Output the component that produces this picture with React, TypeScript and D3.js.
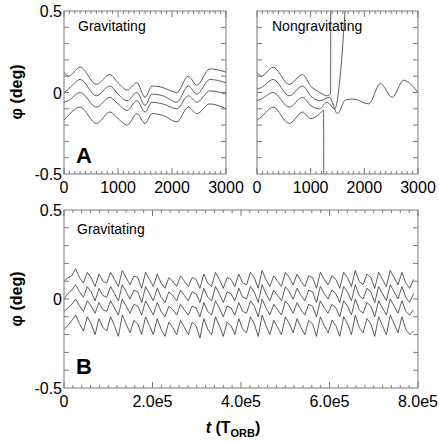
import React from "react";
import * as d3 from "d3";

// panel A: time (T_orb) and phase (deg)
const tA = [0, 80, 300, 600, 850, 1000, 1170, 1350, 1500, 1630, 1830, 2090, 2300, 2460, 2700, 3000];
const gravA1 = [0.125, 0.1, 0.155, 0.05, 0.11, 0.06, 0.015, 0.06, -0.03, 0.04, 0.03, 0.0, 0.1, 0.045, 0.145, 0.125];
const gravA2 = [0.0, 0.02, 0.08, -0.02, 0.04, -0.01, -0.05, 0.0, -0.08, -0.01, -0.02, -0.06, 0.04, -0.01, 0.08, 0.06];
const gravA3 = [-0.06, -0.05, 0.0, -0.09, -0.03, -0.07, -0.11, -0.05, -0.12, -0.06, -0.07, -0.1, -0.02, -0.06, 0.01, -0.01];
const gravA4 = [-0.17, -0.14, -0.09, -0.19, -0.12, -0.16, -0.2, -0.13, -0.19, -0.13, -0.14, -0.18, -0.09, -0.13, -0.07, -0.1];

const nonT1 = [0, 80, 300, 600, 850, 1000, 1170, 1300, 1370, 1375];
const nonV1 = [0.125, 0.1, 0.155, 0.05, 0.11, 0.04, 0.0, -0.02, -0.01, 0.6];
const nonT2 = [0, 80, 300, 600, 850, 1000, 1170, 1350, 1500, 1650, 1800, 2080, 2300, 2520, 2730, 3000];
const nonV2 = [0.02, 0.03, 0.08, -0.02, 0.04, -0.02, -0.05, -0.03, -0.13, -0.045, -0.04, -0.07, 0.055, -0.03, 0.075, 0.0];
const nonT3 = [0, 80, 300, 600, 850, 1000, 1170, 1300, 1450, 1550, 1650];
const nonV3 = [-0.05, -0.04, 0.0, -0.09, -0.03, -0.08, -0.1, -0.06, -0.1, 0.1, 0.55];
const nonT4 = [0, 80, 300, 600, 850, 1000, 1170, 1240, 1245];
const nonV4 = [-0.17, -0.15, -0.09, -0.19, -0.12, -0.16, -0.13, -0.11, -0.6];

// panel B: long run, sampled every ~8800 T_orb
const gravB1 = [0.10, 0.12, 0.13, 0.17, 0.12, 0.09, 0.15, 0.12, 0.07, 0.14, 0.10, 0.09, 0.15, 0.11, 0.07, 0.16, 0.12, 0.08, 0.13, 0.12, 0.06, 0.15, 0.11, 0.07, 0.14, 0.09, 0.06, 0.12, 0.10, 0.07, 0.13, 0.10, 0.07, 0.12, 0.11, 0.06, 0.14, 0.09, 0.07, 0.15, 0.11, 0.06, 0.12, 0.11, 0.07, 0.14, 0.09, 0.08, 0.15, 0.12, 0.06, 0.16, 0.11, 0.07, 0.13, 0.10, 0.07, 0.15, 0.12, 0.08, 0.14, 0.10, 0.07, 0.13, 0.12, 0.06, 0.15, 0.11, 0.08, 0.13, 0.11, 0.06, 0.15, 0.12, 0.07, 0.16, 0.10, 0.08, 0.14, 0.12, 0.06, 0.15, 0.11, 0.07, 0.16, 0.12, 0.08, 0.15, 0.09, 0.06, 0.11];
const gravB2 = [0.00, 0.03, 0.05, 0.08, 0.04, 0.01, 0.07, 0.04, -0.01, 0.06, 0.02, 0.01, 0.07, 0.03, -0.01, 0.08, 0.04, 0.00, 0.05, 0.04, -0.02, 0.07, 0.03, -0.01, 0.06, 0.01, -0.02, 0.04, 0.02, -0.01, 0.05, 0.02, -0.01, 0.04, 0.03, -0.02, 0.06, 0.01, -0.01, 0.07, 0.03, -0.02, 0.04, 0.03, -0.01, 0.06, 0.01, 0.00, 0.07, 0.04, -0.02, 0.08, 0.03, -0.01, 0.05, 0.02, -0.01, 0.07, 0.04, 0.00, 0.06, 0.02, -0.01, 0.05, 0.04, -0.02, 0.07, 0.03, 0.00, 0.05, 0.03, -0.02, 0.07, 0.04, -0.01, 0.08, 0.02, 0.00, 0.06, 0.04, -0.02, 0.07, 0.03, -0.01, 0.08, 0.04, 0.00, 0.07, 0.01, -0.02, 0.03];
const gravB3 = [-0.07, -0.05, -0.03, 0.00, -0.04, -0.07, -0.01, -0.04, -0.08, -0.02, -0.06, -0.07, -0.01, -0.05, -0.09, 0.00, -0.04, -0.08, -0.03, -0.04, -0.09, -0.01, -0.05, -0.09, -0.02, -0.07, -0.10, -0.04, -0.06, -0.09, -0.03, -0.06, -0.09, -0.04, -0.05, -0.10, -0.02, -0.07, -0.09, -0.01, -0.05, -0.10, -0.04, -0.05, -0.09, -0.02, -0.07, -0.08, -0.01, -0.04, -0.10, 0.00, -0.05, -0.09, -0.03, -0.06, -0.09, -0.01, -0.04, -0.08, -0.02, -0.06, -0.09, -0.03, -0.04, -0.10, -0.01, -0.05, -0.08, -0.03, -0.05, -0.10, -0.01, -0.04, -0.09, 0.00, -0.06, -0.08, -0.02, -0.04, -0.10, -0.01, -0.05, -0.09, 0.00, -0.04, -0.08, -0.01, -0.07, -0.09, -0.06];
const gravB4 = [-0.17, -0.15, -0.12, -0.09, -0.14, -0.18, -0.10, -0.14, -0.20, -0.11, -0.16, -0.18, -0.10, -0.15, -0.21, -0.09, -0.14, -0.19, -0.12, -0.14, -0.20, -0.10, -0.15, -0.20, -0.11, -0.17, -0.21, -0.13, -0.16, -0.20, -0.12, -0.16, -0.20, -0.13, -0.15, -0.22, -0.11, -0.17, -0.20, -0.10, -0.15, -0.21, -0.13, -0.15, -0.20, -0.11, -0.17, -0.19, -0.10, -0.14, -0.21, -0.09, -0.15, -0.20, -0.12, -0.16, -0.20, -0.10, -0.14, -0.19, -0.11, -0.16, -0.20, -0.12, -0.14, -0.21, -0.10, -0.15, -0.19, -0.12, -0.15, -0.21, -0.10, -0.14, -0.20, -0.09, -0.16, -0.19, -0.11, -0.14, -0.21, -0.10, -0.15, -0.20, -0.09, -0.14, -0.19, -0.10, -0.17, -0.20, -0.18];
const tEndB = 790000;

const yTickLabels = [-0.5, 0, 0.5];
const xLabelsA = [0, 1000, 2000, 3000];
const xLabelsB = [0, 200000, 400000, 600000, 800000];
const xLabelTextB = ["0", "2.0e5", "4.0e5", "6.0e5", "8.0e5"];

const FONT = "'Liberation Sans', Arial, Helvetica, sans-serif";
const FRAME = "#7a7a7a";
const INK = "#404040";

type Pt = [number, number];

function zip(t: number[], v: number[]): Pt[] {
  return v.map((d, i) => [t[i], d] as Pt);
}

function Panel({ id, x0, x1, y0, y1, xDomain, xMinorStep, xMajor, xLabelText, series, curve, labelX }: any) {
  const x = d3.scaleLinear().domain(xDomain).range([x0, x1]);
  const y = d3.scaleLinear().domain([-0.5, 0.5]).range([y1, y0]);
  const line = d3
    .line<Pt>()
    .x((d) => x(d[0]))
    .y((d) => y(d[1]))
    .curve(curve);
  const yMinor = d3.range(-4, 5).map((k) => k / 10);
  const xMinor = d3.range(xDomain[0], xDomain[1] + 1, xMinorStep);
  return (
    <g>
      <clipPath id={id}>
        <rect x={x0} y={y0} width={x1 - x0} height={y1 - y0} />
      </clipPath>
      <g clipPath={`url(#${id})`} fill="none" stroke={INK} strokeWidth={0.85}>
        {series.map((s: Pt[], i: number) => (
          <path key={i} d={line(s) || ""} />
        ))}
      </g>
      <g stroke={FRAME} strokeWidth={1} fill="none">
        <rect x={x0} y={y0} width={x1 - x0} height={y1 - y0} />
        {yMinor.map((v) => (
          <g key={"y" + v}>
            <line x1={x0} x2={x0 + 5} y1={y(v)} y2={y(v)} />
            <line x1={x1} x2={x1 - 5} y1={y(v)} y2={y(v)} />
          </g>
        ))}
        {xMinor.map((v: number) => {
          const len = xMajor.includes(v) ? 6 : 3;
          return (
            <g key={"x" + v}>
              <line x1={x(v)} x2={x(v)} y1={y1} y2={y1 - len} />
              <line x1={x(v)} x2={x(v)} y1={y0} y2={y0 + len} />
            </g>
          );
        })}
      </g>
      <g fontFamily={FONT} fontSize={16} fill="#000">
        {labelX &&
          yTickLabels.map((v) => (
            <text key={v} x={x0 - 2} y={y(v) + 6} textAnchor="end">
              {String(v)}
            </text>
          ))}
        {xMajor.map((v: number, i: number) => (
          <text key={v} x={x(v)} y={y1 + 19} textAnchor="middle">
            {xLabelText[i]}
          </text>
        ))}
      </g>
    </g>
  );
}

export default function App() {
  const tB = gravB1.map((_, i) => (i * tEndB) / (gravB1.length - 1));
  const seriesGravA = [gravA1, gravA2, gravA3, gravA4].map((v) => zip(tA, v));
  const seriesNonA = [
    zip(nonT1, nonV1),
    zip(nonT2, nonV2),
    zip(nonT3, nonV3),
    zip(nonT4, nonV4),
  ];
  const seriesB = [gravB1, gravB2, gravB3, gravB4].map((v) => zip(tB, v));

  return (
    <svg
      width={439}
      height={443}
      style={{ position: "absolute", left: 0, top: 0, background: "#fff" }}
    >
      <Panel
        id="clipA1"
        x0={64}
        x1={226}
        y0={11}
        y1={174}
        xDomain={[0, 3000]}
        xMinorStep={100}
        xMajor={xLabelsA}
        xLabelText={xLabelsA.map(String)}
        series={seriesGravA}
        curve={d3.curveMonotoneX}
        labelX={true}
      />
      <Panel
        id="clipA2"
        x0={257}
        x1={418}
        y0={11}
        y1={174}
        xDomain={[0, 3000]}
        xMinorStep={100}
        xMajor={xLabelsA}
        xLabelText={xLabelsA.map(String)}
        series={seriesNonA}
        curve={d3.curveMonotoneX}
        labelX={false}
      />
      <Panel
        id="clipB"
        x0={64}
        x1={418}
        y0={210}
        y1={388}
        xDomain={[0, 800000]}
        xMinorStep={20000}
        xMajor={xLabelsB}
        xLabelText={xLabelTextB}
        series={seriesB}
        curve={d3.curveLinear}
        labelX={true}
      />
      <g fontFamily={FONT} fill="#000">
        <text x={78} y={31} fontSize={14}>Gravitating</text>
        <text x={272} y={31} fontSize={14}>Nongravitating</text>
        <text x={77} y={234} fontSize={14}>Gravitating</text>
        <text x={76} y={163} fontSize={22} fontWeight="bold">A</text>
        <text x={76} y={374} fontSize={22} fontWeight="bold">B</text>
        <text
          transform="translate(22,92) rotate(-90)"
          textAnchor="middle"
          fontSize={16}
          fontWeight="bold"
        >
          φ (deg)
        </text>
        <text
          transform="translate(22,299) rotate(-90)"
          textAnchor="middle"
          fontSize={16}
          fontWeight="bold"
        >
          φ (deg)
        </text>
        <text x={233} y={433} textAnchor="middle" fontSize={16} fontWeight="bold">
          <tspan fontStyle="italic">t</tspan>
          <tspan> (T</tspan>
          <tspan fontSize={11} dy={4}>ORB</tspan>
          <tspan dy={-4}>)</tspan>
        </text>
      </g>
    </svg>
  );
}
